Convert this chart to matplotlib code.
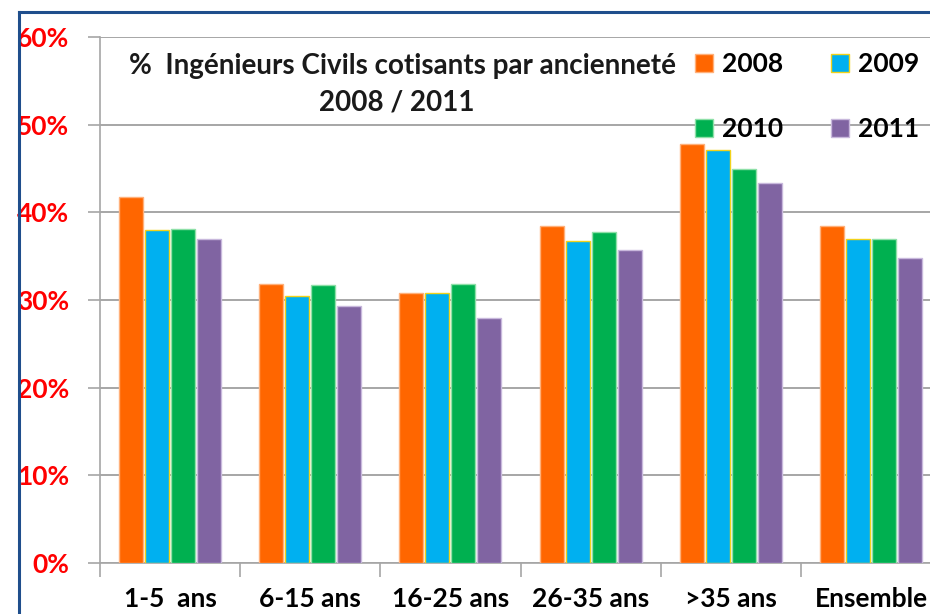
import matplotlib.pyplot as plt
from matplotlib.patches import Patch
from matplotlib.lines import Line2D
import numpy as np

# data
categories = ['1-5  ans', '6-15 ans', '16-25 ans', '26-35 ans', '>35 ans', 'Ensemble']
years = ['2008', '2009', '2010', '2011']
v2008 = [41.8, 31.8, 30.8, 38.4, 47.8, 38.4]
v2009 = [38.0, 30.4, 30.8, 36.7, 47.1, 37.0]
v2010 = [38.1, 31.7, 31.8, 37.8, 44.9, 37.0]
v2011 = [37.0, 29.3, 27.9, 35.7, 43.3, 34.8]
yticks = [0, 10, 20, 30, 40, 50, 60]

colors = ['#FF6600', '#00B0F0', '#00B050', '#8064A2']
edges = ['#FFB07A', '#F2D21A', '#8EE0A8', '#C8B8DC']

plt.rcParams['font.family'] = ['Lato', 'DejaVu Sans']

W, H = 930, 614
fig = plt.figure(figsize=(W / 100, H / 100), dpi=100)


def px(x, y):
    # figure pixel coords (top-left origin) -> figure fraction
    return x / W, 1 - y / H


# axes: left spine at x=100, 0% at y=563, 60% at y=37, category width 140.2 px
ax = fig.add_axes([100 / W, (H - 563) / H, 6 * 140.2 / W, (563 - 37) / H])

x = np.arange(len(categories))
series = [v2008, v2009, v2010, v2011]
pitch = 26 / 140.2
bw = 0.172
start = 18 / 140.2
for i, vals in enumerate(series):
    ax.bar(x + start + pitch * i + pitch / 2, vals, width=bw, color=colors[i],
           edgecolor=edges[i], linewidth=1.0, zorder=3)

ax.set_xlim(0, len(categories))
ax.set_ylim(0, 60)
ax.set_yticks(yticks)
ax.set_yticklabels([f'{t}%' for t in yticks], color='#FF0000',
                   fontsize=19, fontweight='bold')
ax.yaxis.grid(True, color='#A6A6A6', linewidth=1.4, zorder=0)
ax.tick_params(axis='y', length=9, width=1.2, color='#A6A6A6', pad=13)

ax.set_xticks(np.arange(len(categories) + 1))
ax.set_xticklabels([])
ax.set_xticks(x + 0.5, minor=True)
ax.set_xticklabels(categories, minor=True, fontsize=19, fontweight='bold')
ax.tick_params(axis='x', which='major', length=10, width=1.2, color='#A6A6A6')
ax.tick_params(axis='x', which='minor', length=0, pad=17)

for s in ['top', 'right']:
    ax.spines[s].set_visible(False)
for s in ['left', 'bottom']:
    ax.spines[s].set_color('#A6A6A6')
    ax.spines[s].set_linewidth(1.2)

# title inside plot
tx, ty = px(402, 66)
fig.text(tx, ty, '%  Ingénieurs Civils cotisants par ancienneté', ha='center',
         va='center', fontsize=20, fontweight='bold', color='#1A1A1A')
tx, ty = px(397, 102)
fig.text(tx, ty, '2008 / 2011', ha='center', va='center', fontsize=20,
         fontweight='bold', color='#1A1A1A')

# legend, row-wise order
handles = [Patch(facecolor=colors[i], edgecolor=edges[i], label=years[i]) for i in range(4)]
order = [0, 2, 1, 3]
lx, ly = px(695, 52)
fig.legend([handles[i] for i in order], [years[i] for i in order], ncol=2,
           loc='upper left', bbox_to_anchor=(lx, ly), frameon=False,
           prop={'size': 19, 'weight': 'bold'}, handlelength=0.68,
           handleheight=0.68, handletextpad=0.35, labelspacing=1.55,
           columnspacing=1.8, borderpad=0, borderaxespad=0)

# blue frame
fx0, fy0 = px(19, 12)
fig.add_artist(Line2D([fx0, 1.0], [fy0, fy0], color='#1F4E8C', linewidth=2.2))
fig.add_artist(Line2D([fx0, fx0], [fy0, 0.0], color='#1F4E8C', linewidth=2.2))

fig.savefig('out.png', dpi=100)
